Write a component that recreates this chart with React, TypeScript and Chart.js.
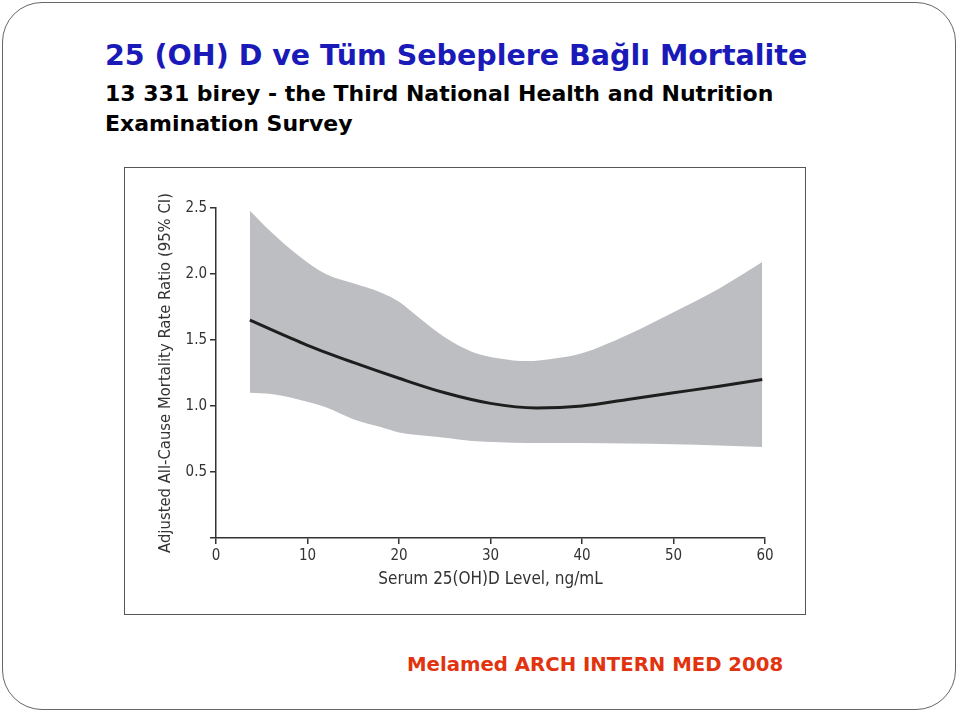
import React, { useEffect, useRef } from "react";
import { Chart, registerables } from "chart.js";

Chart.register(...registerables);

const titleText = "25 (OH) D ve Tüm Sebeplere Bağlı Mortalite";
const subtitleLine1 = "13 331 birey - the Third National Health and Nutrition";
const subtitleLine2 = "Examination Survey";
const footerText = "Melamed ARCH INTERN MED 2008";
const xAxisTitle = "Serum 25(OH)D Level, ng/mL";
const yAxisTitle = "Adjusted All-Cause Mortality Rate Ratio (95% CI)";

const xTicks = [0, 10, 20, 30, 40, 50, 60];
const yTicks = [0, 0.5, 1.0, 1.5, 2.0, 2.5];

const bandX = [3.7, 6, 9, 12, 15, 18, 20, 22, 25, 28, 31, 34, 37, 40, 45, 50, 55, 59.7];
const upperCI = [2.48, 2.32, 2.14, 2.0, 1.93, 1.86, 1.79, 1.68, 1.52, 1.41, 1.36, 1.34, 1.36, 1.4, 1.54, 1.71, 1.89, 2.09];
const lowerCI = [1.1, 1.09, 1.05, 0.99, 0.9, 0.84, 0.8, 0.78, 0.76, 0.735, 0.725, 0.72, 0.72, 0.72, 0.715, 0.71, 0.7, 0.69];

const meanX = [3.7, 10, 15, 20, 25, 30, 35, 40, 45, 50, 55, 59.7];
const meanRR = [1.65, 1.46, 1.33, 1.21, 1.1, 1.02, 0.985, 1.0, 1.05, 1.1, 1.15, 1.2];

const axisFont = "'DejaVu Sans Condensed', 'Liberation Sans Narrow', Arial, sans-serif";

function ChartBox() {
  const ref = useRef<HTMLCanvasElement | null>(null);
  useEffect(() => {
    if (!ref.current) return;
    const chart = new Chart(ref.current, {
      type: "line",
      data: {
        datasets: [
          {
            label: "Upper 95% CI",
            data: bandX.map((x, i) => ({ x, y: upperCI[i] })),
            borderWidth: 0,
            borderColor: "rgba(0,0,0,0)",
            backgroundColor: "#bdbec1",
            pointRadius: 0,
            fill: "+1",
            tension: 0.4,
            cubicInterpolationMode: "monotone",
            order: 2,
          },
          {
            label: "Lower 95% CI",
            data: bandX.map((x, i) => ({ x, y: lowerCI[i] })),
            borderWidth: 0,
            borderColor: "rgba(0,0,0,0)",
            backgroundColor: "#bdbec1",
            pointRadius: 0,
            fill: false,
            tension: 0.4,
            cubicInterpolationMode: "monotone",
            order: 3,
          },
          {
            label: "Rate ratio",
            data: meanX.map((x, i) => ({ x, y: meanRR[i] })),
            borderWidth: 3,
            borderColor: "#1e1e1e",
            pointRadius: 0,
            fill: false,
            tension: 0.4,
            cubicInterpolationMode: "monotone",
            order: 0,
          },
        ],
      },
      options: {
        animation: false,
        responsive: false,
        maintainAspectRatio: false,
        layout: { padding: { left: 0, right: 41, top: 41, bottom: 0 } },
        plugins: { legend: { display: false }, tooltip: { enabled: false } },
        scales: {
          x: {
            type: "linear",
            min: 0,
            max: 60,
            afterFit: (s: any) => {
              s.height = 77;
            },
            afterBuildTicks: (s: any) => {
              s.ticks = xTicks.map((v) => ({ value: v }));
            },
            ticks: {
              color: "#333",
              font: { family: axisFont, size: 15 },
              padding: 3,
              maxRotation: 0,
              callback: (v: any) => String(v),
            },
            grid: { display: true, drawOnChartArea: false, drawTicks: true, tickLength: 6, color: "#333", lineWidth: 1.5 },
            border: { display: true, color: "#333", width: 1.5 },
            title: {
              display: true,
              text: xAxisTitle,
              color: "#333",
              font: { family: axisFont, size: 17 },
              padding: { top: 2, bottom: 25 },
            },
          },
          y: {
            type: "linear",
            min: 0,
            max: 2.5,
            afterFit: (s: any) => {
              s.width = 92;
            },
            afterBuildTicks: (s: any) => {
              s.ticks = yTicks.map((v) => ({ value: v }));
            },
            ticks: {
              color: "#333",
              font: { family: axisFont, size: 15 },
              padding: 3,
              callback: (v: any) => (v === 0 ? "" : Number(v).toFixed(1)),
            },
            grid: { display: true, drawOnChartArea: false, drawTicks: true, tickLength: 6, color: "#333", lineWidth: 1.5 },
            border: { display: true, color: "#333", width: 1.5 },
            title: {
              display: true,
              text: yAxisTitle,
              color: "#333",
              font: { family: axisFont, size: 16.5 },
              padding: { top: 32, bottom: 0 },
            },
          },
        },
      },
    } as any);
    return () => chart.destroy();
  }, []);
  return <canvas ref={ref} width={682} height={448} style={{ display: "block", width: 682, height: 448 }} />;
}

export default function App() {
  const titleFont = "'DejaVu Sans', 'Noto Sans', sans-serif";
  return (
    <div style={{ position: "fixed", left: 0, top: 0, width: 960, height: 714, background: "#fff", overflow: "hidden" }}>
      <div
        style={{
          position: "absolute",
          left: 2,
          top: 2,
          width: 954,
          height: 708,
          border: "1.5px solid #666",
          borderRadius: 40,
          boxSizing: "border-box",
        }}
      />
      <div
        style={{
          position: "absolute",
          left: 105,
          top: 39,
          fontFamily: titleFont,
          fontWeight: "bold",
          fontSize: 28.5,
          lineHeight: "34px",
          color: "#1a1ab8",
          whiteSpace: "nowrap",
        }}
      >
        {titleText}
      </div>
      <div
        style={{
          position: "absolute",
          left: 105,
          top: 79,
          fontFamily: titleFont,
          fontWeight: "bold",
          fontSize: 22,
          lineHeight: "30px",
          color: "#000",
          whiteSpace: "nowrap",
        }}
      >
        <div>{subtitleLine1}</div>
        <div>{subtitleLine2}</div>
      </div>
      <div
        style={{
          position: "absolute",
          left: 124,
          top: 167,
          width: 682,
          height: 448,
          border: "1.5px solid #555",
          boxSizing: "border-box",
        }}
      />
      <div style={{ position: "absolute", left: 124, top: 167 }}>
        <ChartBox />
      </div>
      <div
        style={{
          position: "absolute",
          left: 407,
          top: 651,
          fontFamily: titleFont,
          fontWeight: "bold",
          fontSize: 19.7,
          lineHeight: "28px",
          color: "#e2330f",
          whiteSpace: "nowrap",
        }}
      >
        {footerText}
      </div>
    </div>
  );
}
